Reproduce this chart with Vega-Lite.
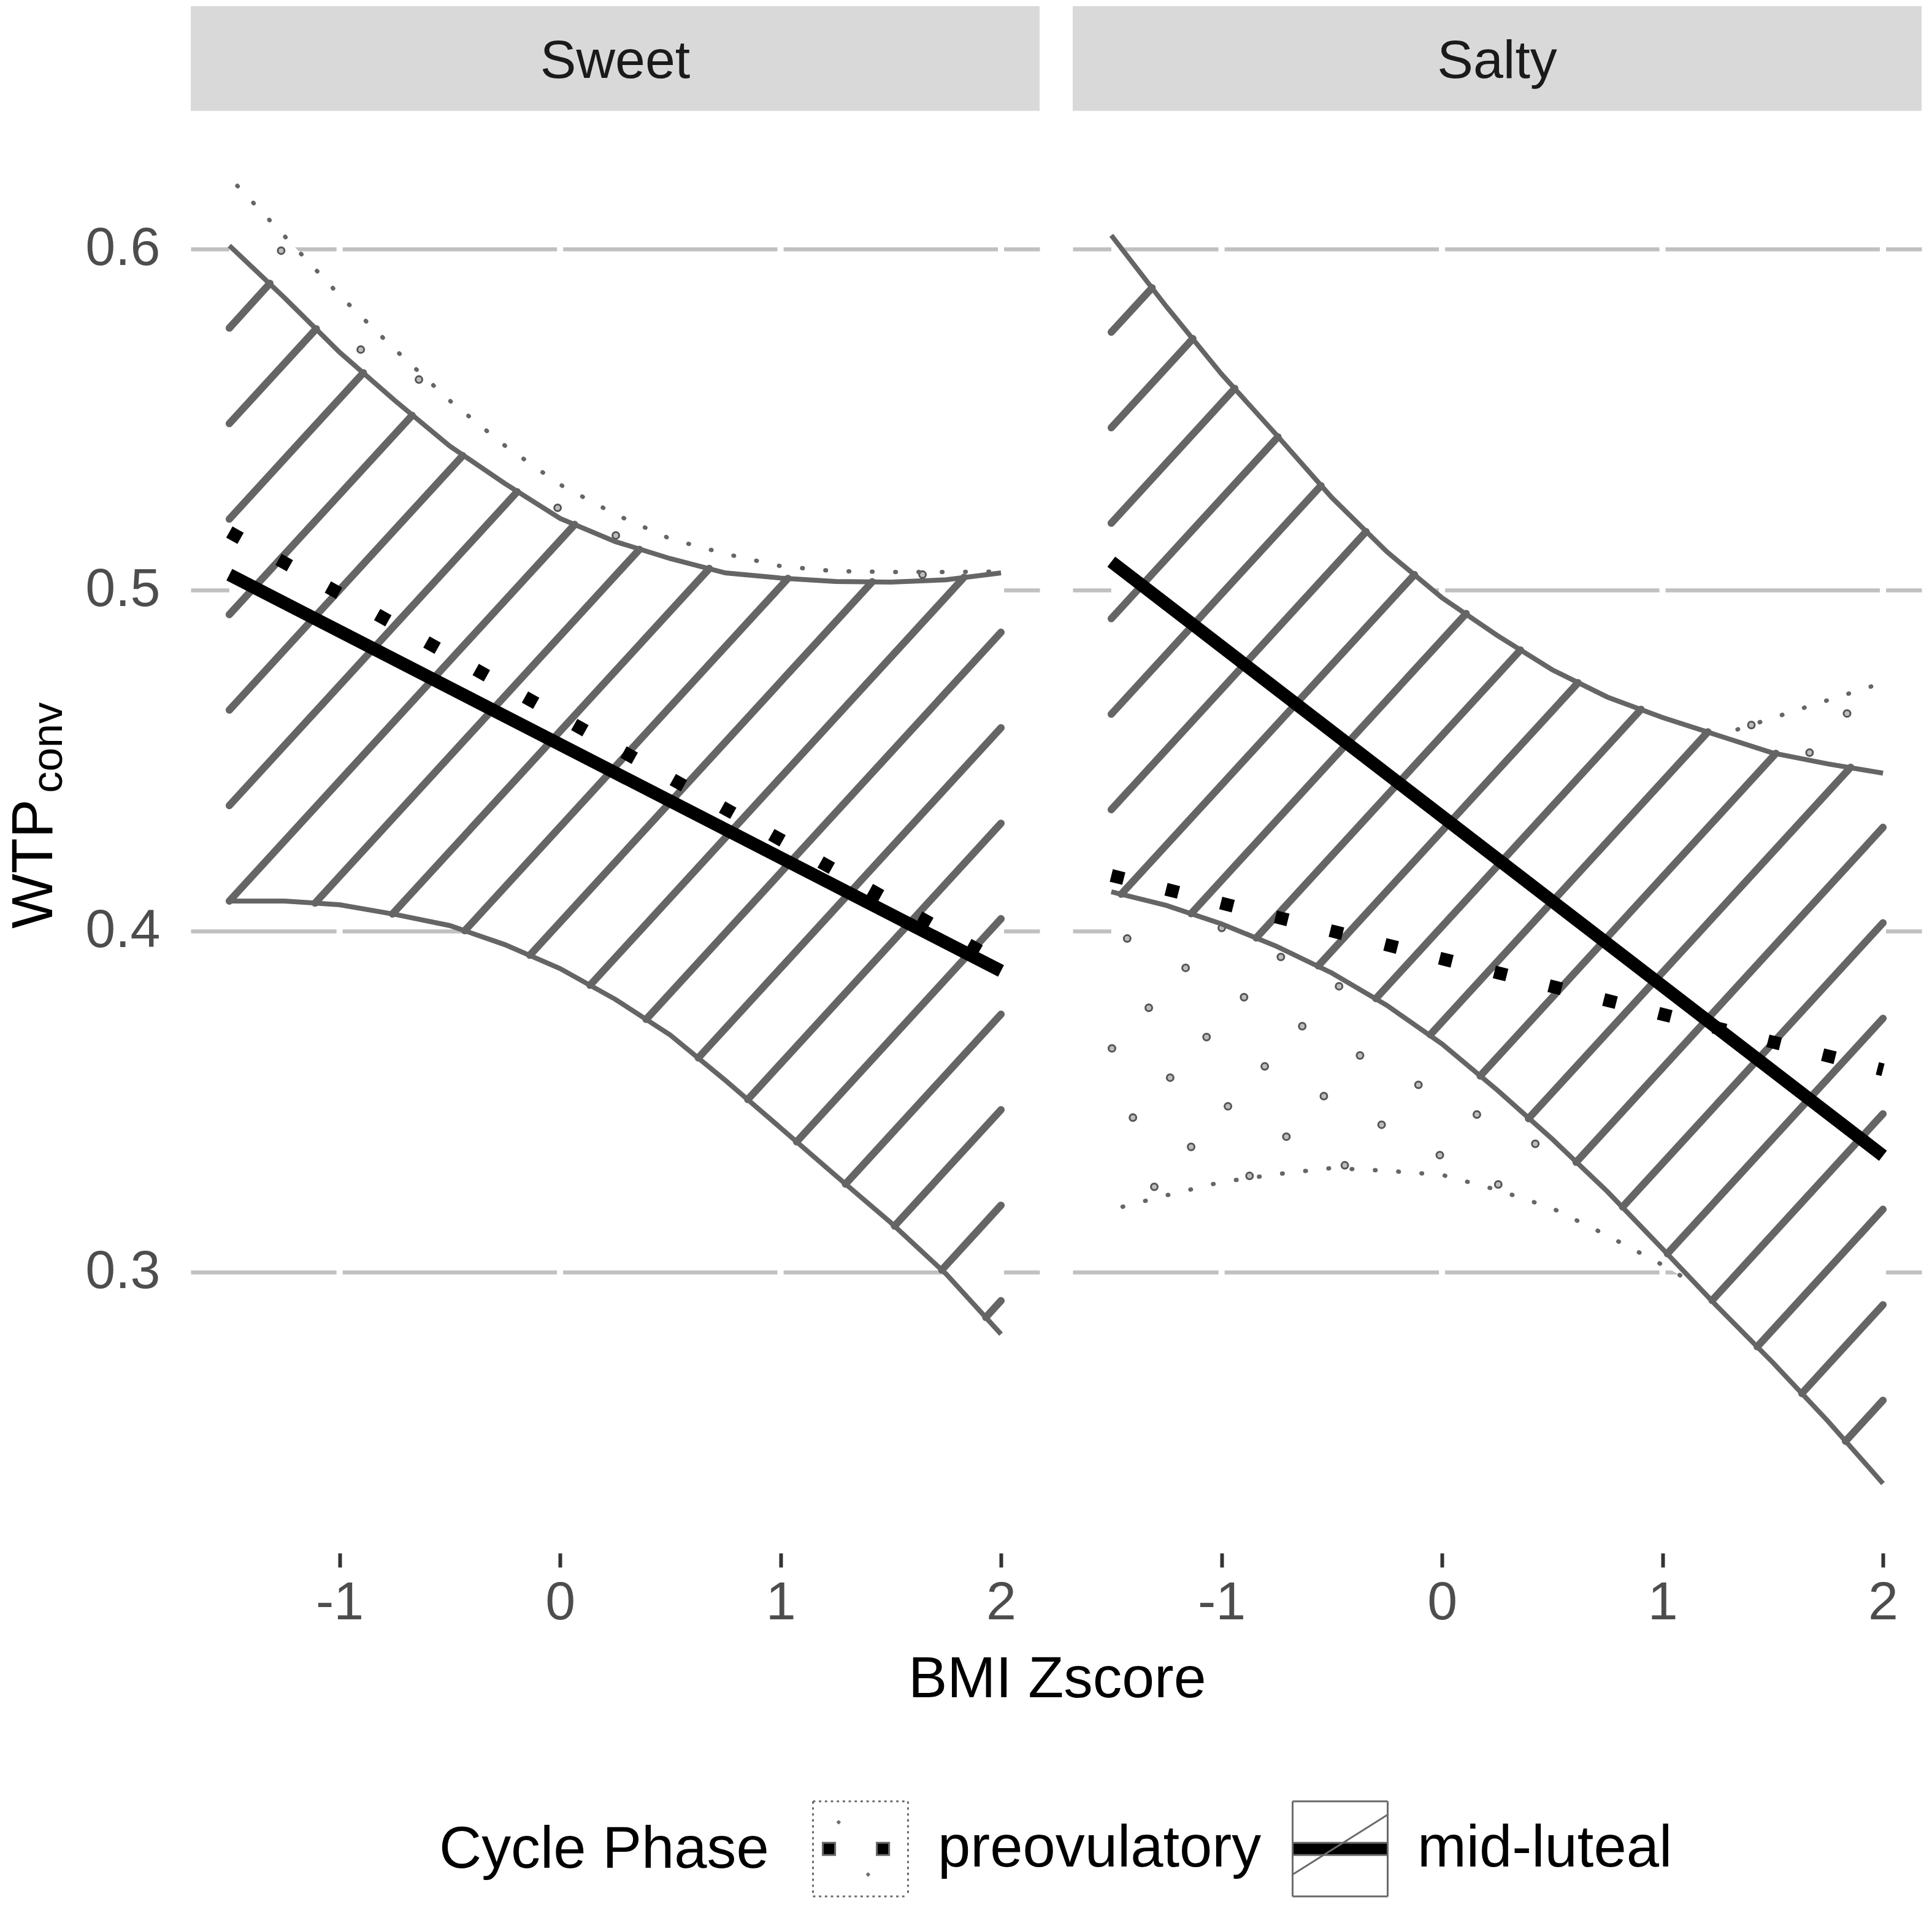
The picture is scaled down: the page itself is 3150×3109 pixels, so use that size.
{
  "$schema": "https://vega.github.io/schema/vega-lite/v6.json",
  "background": "white",
  "padding": {"left": 9, "right": 11, "top": 10, "bottom": 15},
  "bounds": "flush",
  "spacing": 54,
  "config": {
    "font": "Liberation Sans",
    "view": {"stroke": null},
    "axisX": {"grid": false, "domain": false, "ticks": true, "tickSize": 23, "tickWidth": 6, "tickColor": "#333333", "labelFontSize": 88, "labelColor": "#4d4d4d", "labelPadding": 14},
    "axisY": {"grid": true, "gridColor": "#c0c0c0", "gridWidth": 6.5, "domain": false, "ticks": false, "labelFontSize": 88, "labelColor": "#4d4d4d", "labelPadding": 50}
  },
  "data": {
    "values": [
      {"kind": "gap", "panel": "Sweet", "x": -1}, {"kind": "gap", "panel": "Sweet", "x": 0}, {"kind": "gap", "panel": "Sweet", "x": 1}, {"kind": "gap", "panel": "Sweet", "x": 2},
      {"kind": "gap", "panel": "Salty", "x": -1}, {"kind": "gap", "panel": "Salty", "x": 0}, {"kind": "gap", "panel": "Salty", "x": 1}, {"kind": "gap", "panel": "Salty", "x": 2},
      {"kind": "key", "panel": "Sweet", "phase": "preovulatory", "x": 0, "y": 0.45},
      {"kind": "key", "panel": "Sweet", "phase": "mid-luteal", "x": 0, "y": 0.45},

      {"kind": "band", "panel": "Sweet", "phase": "mid-luteal", "x": -1.5, "lo": 0.4088, "hi": 0.6010},
      {"kind": "band", "panel": "Sweet", "phase": "mid-luteal", "x": -1.25, "lo": 0.4088, "hi": 0.5857},
      {"kind": "band", "panel": "Sweet", "phase": "mid-luteal", "x": -1, "lo": 0.4077, "hi": 0.5697},
      {"kind": "band", "panel": "Sweet", "phase": "mid-luteal", "x": -0.75, "lo": 0.4049, "hi": 0.5556},
      {"kind": "band", "panel": "Sweet", "phase": "mid-luteal", "x": -0.5, "lo": 0.4016, "hi": 0.5422},
      {"kind": "band", "panel": "Sweet", "phase": "mid-luteal", "x": -0.25, "lo": 0.3960, "hi": 0.5312},
      {"kind": "band", "panel": "Sweet", "phase": "mid-luteal", "x": 0, "lo": 0.3890, "hi": 0.5210},
      {"kind": "band", "panel": "Sweet", "phase": "mid-luteal", "x": 0.25, "lo": 0.3800, "hi": 0.5142},
      {"kind": "band", "panel": "Sweet", "phase": "mid-luteal", "x": 0.5, "lo": 0.3695, "hi": 0.5092},
      {"kind": "band", "panel": "Sweet", "phase": "mid-luteal", "x": 0.75, "lo": 0.3562, "hi": 0.5050},
      {"kind": "band", "panel": "Sweet", "phase": "mid-luteal", "x": 1, "lo": 0.3423, "hi": 0.5035},
      {"kind": "band", "panel": "Sweet", "phase": "mid-luteal", "x": 1.25, "lo": 0.3283, "hi": 0.5025},
      {"kind": "band", "panel": "Sweet", "phase": "mid-luteal", "x": 1.5, "lo": 0.3145, "hi": 0.5023},
      {"kind": "band", "panel": "Sweet", "phase": "mid-luteal", "x": 1.75, "lo": 0.2995, "hi": 0.5030},
      {"kind": "band", "panel": "Sweet", "phase": "mid-luteal", "x": 2, "lo": 0.2818, "hi": 0.5050},

      {"kind": "band", "panel": "Sweet", "phase": "preovulatory", "x": -1.5, "lo": 0.4140, "hi": 0.6210},
      {"kind": "band", "panel": "Sweet", "phase": "preovulatory", "x": -1.25, "lo": 0.4135, "hi": 0.6038},
      {"kind": "band", "panel": "Sweet", "phase": "preovulatory", "x": -1, "lo": 0.4120, "hi": 0.5864},
      {"kind": "band", "panel": "Sweet", "phase": "preovulatory", "x": -0.75, "lo": 0.4090, "hi": 0.5706},
      {"kind": "band", "panel": "Sweet", "phase": "preovulatory", "x": -0.5, "lo": 0.4050, "hi": 0.5555},
      {"kind": "band", "panel": "Sweet", "phase": "preovulatory", "x": -0.25, "lo": 0.3995, "hi": 0.5423},
      {"kind": "band", "panel": "Sweet", "phase": "preovulatory", "x": 0, "lo": 0.3930, "hi": 0.5309},
      {"kind": "band", "panel": "Sweet", "phase": "preovulatory", "x": 0.25, "lo": 0.3840, "hi": 0.5222},
      {"kind": "band", "panel": "Sweet", "phase": "preovulatory", "x": 0.5, "lo": 0.3740, "hi": 0.5150},
      {"kind": "band", "panel": "Sweet", "phase": "preovulatory", "x": 0.75, "lo": 0.3610, "hi": 0.5106},
      {"kind": "band", "panel": "Sweet", "phase": "preovulatory", "x": 1, "lo": 0.3480, "hi": 0.5070},
      {"kind": "band", "panel": "Sweet", "phase": "preovulatory", "x": 1.25, "lo": 0.3335, "hi": 0.5055},
      {"kind": "band", "panel": "Sweet", "phase": "preovulatory", "x": 1.5, "lo": 0.3180, "hi": 0.5053},
      {"kind": "band", "panel": "Sweet", "phase": "preovulatory", "x": 1.75, "lo": 0.3020, "hi": 0.5053},
      {"kind": "band", "panel": "Sweet", "phase": "preovulatory", "x": 2, "lo": 0.2865, "hi": 0.5054},

      {"kind": "band", "panel": "Salty", "phase": "mid-luteal", "x": -1.5, "lo": 0.4115, "hi": 0.6040},
      {"kind": "band", "panel": "Salty", "phase": "mid-luteal", "x": -1.25, "lo": 0.4075, "hi": 0.5831},
      {"kind": "band", "panel": "Salty", "phase": "mid-luteal", "x": -1, "lo": 0.4021, "hi": 0.5633},
      {"kind": "band", "panel": "Salty", "phase": "mid-luteal", "x": -0.75, "lo": 0.3955, "hi": 0.5454},
      {"kind": "band", "panel": "Salty", "phase": "mid-luteal", "x": -0.5, "lo": 0.3877, "hi": 0.5271},
      {"kind": "band", "panel": "Salty", "phase": "mid-luteal", "x": -0.25, "lo": 0.3782, "hi": 0.5112},
      {"kind": "band", "panel": "Salty", "phase": "mid-luteal", "x": 0, "lo": 0.3669, "hi": 0.4977},
      {"kind": "band", "panel": "Salty", "phase": "mid-luteal", "x": 0.25, "lo": 0.3534, "hi": 0.4867},
      {"kind": "band", "panel": "Salty", "phase": "mid-luteal", "x": 0.5, "lo": 0.3390, "hi": 0.4766},
      {"kind": "band", "panel": "Salty", "phase": "mid-luteal", "x": 0.75, "lo": 0.3236, "hi": 0.4686},
      {"kind": "band", "panel": "Salty", "phase": "mid-luteal", "x": 1, "lo": 0.3068, "hi": 0.4626},
      {"kind": "band", "panel": "Salty", "phase": "mid-luteal", "x": 1.25, "lo": 0.2898, "hi": 0.4574},
      {"kind": "band", "panel": "Salty", "phase": "mid-luteal", "x": 1.5, "lo": 0.2735, "hi": 0.4522},
      {"kind": "band", "panel": "Salty", "phase": "mid-luteal", "x": 1.75, "lo": 0.2563, "hi": 0.4490},
      {"kind": "band", "panel": "Salty", "phase": "mid-luteal", "x": 2, "lo": 0.2380, "hi": 0.4463},

      {"kind": "band", "panel": "Salty", "phase": "preovulatory", "x": -1.5, "lo": 0.3183, "hi": 0.5140},
      {"kind": "band", "panel": "Salty", "phase": "preovulatory", "x": -1.25, "lo": 0.3225, "hi": 0.5065},
      {"kind": "band", "panel": "Salty", "phase": "preovulatory", "x": -1, "lo": 0.3264, "hi": 0.4990},
      {"kind": "band", "panel": "Salty", "phase": "preovulatory", "x": -0.75, "lo": 0.3287, "hi": 0.4920},
      {"kind": "band", "panel": "Salty", "phase": "preovulatory", "x": -0.5, "lo": 0.3305, "hi": 0.4850},
      {"kind": "band", "panel": "Salty", "phase": "preovulatory", "x": -0.25, "lo": 0.3297, "hi": 0.4785},
      {"kind": "band", "panel": "Salty", "phase": "preovulatory", "x": 0, "lo": 0.3285, "hi": 0.4720},
      {"kind": "band", "panel": "Salty", "phase": "preovulatory", "x": 0.25, "lo": 0.3241, "hi": 0.4670},
      {"kind": "band", "panel": "Salty", "phase": "preovulatory", "x": 0.5, "lo": 0.3187, "hi": 0.4620},
      {"kind": "band", "panel": "Salty", "phase": "preovulatory", "x": 0.75, "lo": 0.3107, "hi": 0.4585},
      {"kind": "band", "panel": "Salty", "phase": "preovulatory", "x": 1, "lo": 0.3021, "hi": 0.4560},
      {"kind": "band", "panel": "Salty", "phase": "preovulatory", "x": 1.25, "lo": 0.2925, "hi": 0.4572},
      {"kind": "band", "panel": "Salty", "phase": "preovulatory", "x": 1.5, "lo": 0.2820, "hi": 0.4625},
      {"kind": "band", "panel": "Salty", "phase": "preovulatory", "x": 1.75, "lo": 0.2700, "hi": 0.4677},
      {"kind": "band", "panel": "Salty", "phase": "preovulatory", "x": 2, "lo": 0.2570, "hi": 0.4728},

      {"kind": "dot", "panel": "Sweet", "x": -1.265, "y": 0.5995},
      {"kind": "dot", "panel": "Sweet", "x": -0.904, "y": 0.5705},
      {"kind": "dot", "panel": "Sweet", "x": -0.640, "y": 0.5617},
      {"kind": "dot", "panel": "Sweet", "x": -0.011, "y": 0.5241},
      {"kind": "dot", "panel": "Sweet", "x": 0.253, "y": 0.5160},
      {"kind": "dot", "panel": "Sweet", "x": 1.644, "y": 0.5045},
      {"kind": "dot", "panel": "Salty", "x": -1.428, "y": 0.3978},
      {"kind": "dot", "panel": "Salty", "x": -1.163, "y": 0.3892},
      {"kind": "dot", "panel": "Salty", "x": -1.330, "y": 0.3775},
      {"kind": "dot", "panel": "Salty", "x": -0.898, "y": 0.3806},
      {"kind": "dot", "panel": "Salty", "x": -0.731, "y": 0.3924},
      {"kind": "dot", "panel": "Salty", "x": -0.999, "y": 0.4009},
      {"kind": "dot", "panel": "Salty", "x": -0.467, "y": 0.3838},
      {"kind": "dot", "panel": "Salty", "x": -1.068, "y": 0.3689},
      {"kind": "dot", "panel": "Salty", "x": -0.634, "y": 0.3721},
      {"kind": "dot", "panel": "Salty", "x": -1.497, "y": 0.3656},
      {"kind": "dot", "panel": "Salty", "x": -0.804, "y": 0.3603},
      {"kind": "dot", "panel": "Salty", "x": -0.372, "y": 0.3635},
      {"kind": "dot", "panel": "Salty", "x": -1.233, "y": 0.3570},
      {"kind": "dot", "panel": "Salty", "x": -0.971, "y": 0.3486},
      {"kind": "dot", "panel": "Salty", "x": -0.536, "y": 0.3516},
      {"kind": "dot", "panel": "Salty", "x": -0.107, "y": 0.3549},
      {"kind": "dot", "panel": "Salty", "x": -1.402, "y": 0.3453},
      {"kind": "dot", "panel": "Salty", "x": -0.706, "y": 0.3397},
      {"kind": "dot", "panel": "Salty", "x": -0.274, "y": 0.3432},
      {"kind": "dot", "panel": "Salty", "x": 0.158, "y": 0.3462},
      {"kind": "dot", "panel": "Salty", "x": -1.138, "y": 0.3367},
      {"kind": "dot", "panel": "Salty", "x": -0.010, "y": 0.3343},
      {"kind": "dot", "panel": "Salty", "x": 0.423, "y": 0.3376},
      {"kind": "dot", "panel": "Salty", "x": -1.305, "y": 0.3250},
      {"kind": "dot", "panel": "Salty", "x": -0.873, "y": 0.3282},
      {"kind": "dot", "panel": "Salty", "x": -0.441, "y": 0.3313},
      {"kind": "dot", "panel": "Salty", "x": 0.255, "y": 0.3257},
      {"kind": "dot", "panel": "Salty", "x": 1.403, "y": 0.4604},
      {"kind": "dot", "panel": "Salty", "x": 1.837, "y": 0.4638},
      {"kind": "dot", "panel": "Salty", "x": 1.667, "y": 0.4523},

      {"kind": "hatch", "panel": "Sweet", "x": -1.5, "y": 0.5768, "x2": -1.316, "y2": 0.5899},
      {"kind": "hatch", "panel": "Sweet", "x": -1.5, "y": 0.5488, "x2": -1.1055, "y2": 0.5766},
      {"kind": "hatch", "panel": "Sweet", "x": -1.5, "y": 0.5208, "x2": -0.892, "y2": 0.5637},
      {"kind": "hatch", "panel": "Sweet", "x": -1.5, "y": 0.4928, "x2": -0.671, "y2": 0.5512},
      {"kind": "hatch", "panel": "Sweet", "x": -1.5, "y": 0.4648, "x2": -0.4415, "y2": 0.5394},
      {"kind": "hatch", "panel": "Sweet", "x": -1.5, "y": 0.4368, "x2": -0.1945, "y2": 0.5288},
      {"kind": "hatch", "panel": "Sweet", "x": -1.5, "y": 0.4088, "x2": 0.0665, "y2": 0.5192},
      {"kind": "hatch", "panel": "Sweet", "x": -1.111, "y": 0.4082, "x2": 0.360, "y2": 0.5119},
      {"kind": "hatch", "panel": "Sweet", "x": -0.760, "y": 0.4050, "x2": 0.677, "y2": 0.5063},
      {"kind": "hatch", "panel": "Sweet", "x": -0.432, "y": 0.4001, "x2": 1.0335, "y2": 0.5034},
      {"kind": "hatch", "panel": "Sweet", "x": -0.137, "y": 0.3929, "x2": 1.416, "y2": 0.5024},
      {"kind": "hatch", "panel": "Sweet", "x": 0.136, "y": 0.3841, "x2": 1.832, "y2": 0.5037},
      {"kind": "hatch", "panel": "Sweet", "x": 0.3905, "y": 0.3741, "x2": 2, "y2": 0.4876},
      {"kind": "hatch", "panel": "Sweet", "x": 0.627, "y": 0.3628, "x2": 2, "y2": 0.4596},
      {"kind": "hatch", "panel": "Sweet", "x": 0.8515, "y": 0.3506, "x2": 2, "y2": 0.4316},
      {"kind": "hatch", "panel": "Sweet", "x": 1.073, "y": 0.3382, "x2": 2, "y2": 0.4036},
      {"kind": "hatch", "panel": "Sweet", "x": 1.2945, "y": 0.3258, "x2": 2, "y2": 0.3756},
      {"kind": "hatch", "panel": "Sweet", "x": 1.517, "y": 0.3135, "x2": 2, "y2": 0.3476},
      {"kind": "hatch", "panel": "Sweet", "x": 1.7315, "y": 0.3006, "x2": 2, "y2": 0.3196},
      {"kind": "hatch", "panel": "Sweet", "x": 1.931, "y": 0.2867, "x2": 2, "y2": 0.2916},

      {"kind": "hatch", "panel": "Salty", "x": -1.5, "y": 0.5756, "x2": -1.315, "y2": 0.5886},
      {"kind": "hatch", "panel": "Salty", "x": -1.5, "y": 0.5476, "x2": -1.13, "y2": 0.5737},
      {"kind": "hatch", "panel": "Salty", "x": -1.5, "y": 0.5196, "x2": -0.940, "y2": 0.5591},
      {"kind": "hatch", "panel": "Salty", "x": -1.5, "y": 0.4916, "x2": -0.744, "y2": 0.5449},
      {"kind": "hatch", "panel": "Salty", "x": -1.5, "y": 0.4636, "x2": -0.549, "y2": 0.5306},
      {"kind": "hatch", "panel": "Salty", "x": -1.5, "y": 0.4356, "x2": -0.3445, "y2": 0.5171},
      {"kind": "hatch", "panel": "Salty", "x": -1.455, "y": 0.4108, "x2": -0.125, "y2": 0.5045},
      {"kind": "hatch", "panel": "Salty", "x": -1.138, "y": 0.4051, "x2": 0.1095, "y2": 0.4931},
      {"kind": "hatch", "panel": "Salty", "x": -0.8425, "y": 0.3980, "x2": 0.3555, "y2": 0.4824},
      {"kind": "hatch", "panel": "Salty", "x": -0.5615, "y": 0.3898, "x2": 0.617, "y2": 0.4728},
      {"kind": "hatch", "panel": "Salty", "x": -0.30, "y": 0.3802, "x2": 0.9025, "y2": 0.4650},
      {"kind": "hatch", "panel": "Salty", "x": -0.053, "y": 0.3696, "x2": 1.206, "y2": 0.4584},
      {"kind": "hatch", "panel": "Salty", "x": 0.173, "y": 0.3575, "x2": 1.514, "y2": 0.4521},
      {"kind": "hatch", "panel": "Salty", "x": 0.392, "y": 0.3450, "x2": 1.853, "y2": 0.4480},
      {"kind": "hatch", "panel": "Salty", "x": 0.608, "y": 0.3322, "x2": 2, "y2": 0.4304},
      {"kind": "hatch", "panel": "Salty", "x": 0.819, "y": 0.3191, "x2": 2, "y2": 0.4024},
      {"kind": "hatch", "panel": "Salty", "x": 1.022, "y": 0.3054, "x2": 2, "y2": 0.3744},
      {"kind": "hatch", "panel": "Salty", "x": 1.225, "y": 0.2917, "x2": 2, "y2": 0.3464},
      {"kind": "hatch", "panel": "Salty", "x": 1.4295, "y": 0.2781, "x2": 2, "y2": 0.3184},
      {"kind": "hatch", "panel": "Salty", "x": 1.632, "y": 0.2644, "x2": 2, "y2": 0.2904},
      {"kind": "hatch", "panel": "Salty", "x": 1.83, "y": 0.2504, "x2": 2, "y2": 0.2624},

      {"kind": "fit", "panel": "Sweet", "phase": "preovulatory", "x": -1.5, "y": 0.5170},
      {"kind": "fit", "panel": "Sweet", "phase": "preovulatory", "x": 2, "y": 0.3907},
      {"kind": "fit", "panel": "Sweet", "phase": "mid-luteal", "x": -1.5, "y": 0.5045},
      {"kind": "fit", "panel": "Sweet", "phase": "mid-luteal", "x": 2, "y": 0.3883},
      {"kind": "fit", "panel": "Salty", "phase": "preovulatory", "x": -1.5, "y": 0.4163},
      {"kind": "fit", "panel": "Salty", "phase": "preovulatory", "x": 2, "y": 0.3593},
      {"kind": "fit", "panel": "Salty", "phase": "mid-luteal", "x": -1.5, "y": 0.5083},
      {"kind": "fit", "panel": "Salty", "phase": "mid-luteal", "x": 2, "y": 0.3341},

      {"kind": "strip", "panel": "Sweet", "label": "Sweet"},
      {"kind": "strip", "panel": "Salty", "label": "Salty"},
      {"kind": "ytitle", "panel": "Sweet", "label": "WTP"},
      {"kind": "ysub", "panel": "Sweet", "label": "conv"},
      {"kind": "xtitle", "panel": "Sweet", "label": "BMI Zscore"}
    ]
  },
  "facet": {"column": {"field": "panel", "type": "nominal", "sort": ["Sweet", "Salty"], "header": null}},
  "spec": {
    "width": 1384,
    "height": 2522,
    "layer": [
      {
        "transform": [{"filter": "datum.kind === 'gap'"}],
        "mark": {"type": "rule", "stroke": "white", "strokeWidth": 10},
        "encoding": {
          "x": {"field": "x", "type": "quantitative"},
          "y": {"datum": 0.2176},
          "y2": {"datum": 0.6405}
        }
      },
      {
        "transform": [{"filter": "datum.kind === 'key'"}],
        "mark": {"type": "point", "filled": true, "fill": "black", "strokeWidth": 3, "size": 30, "opacity": 1},
        "encoding": {
          "x": {"field": "x", "type": "quantitative"},
          "y": {"field": "y", "type": "quantitative"},
          "stroke": {
            "field": "phase",
            "type": "nominal",
            "scale": {"domain": ["preovulatory", "mid-luteal"], "range": ["#6b6b6b", "#6b6b6b"]},
            "legend": {
              "title": "Cycle Phase",
              "orient": "none",
              "legendX": 405,
              "legendY": 2925,
              "direction": "horizontal",
              "titleOrient": "left",
              "titleAnchor": "middle",
              "titleBaseline": "middle",
              "titleFontSize": 95.8,
              "titleFontWeight": "normal",
              "titleColor": "black",
              "titlePadding": 70,
              "titleLimit": 0,
              "labelFontSize": 95.8,
              "labelColor": "black",
              "labelLimit": 0,
              "labelOffset": 47,
              "columnPadding": 44,
              "symbolSize": 24025,
              "symbolStrokeWidth": 3,
              "symbolFillColor": "black",
              "symbolOpacity": 1
            }
          },
          "shape": {
            "field": "phase",
            "type": "nominal",
            "scale": {
              "domain": ["preovulatory", "mid-luteal"],
              "range": [
                "M-1,-1h.05m.075,0h.05m.075,0h.05m.075,0h.05m.075,0h.05m.075,0h.05m.075,0h.05m.075,0h.05m.075,0h.05m.075,0h.05m.075,0h.05m.075,0h.05m.075,0h.05m.075,0h.05m.075,0h.05m.075,0h.05M-1,1h.05m.075,0h.05m.075,0h.05m.075,0h.05m.075,0h.05m.075,0h.05m.075,0h.05m.075,0h.05m.075,0h.05m.075,0h.05m.075,0h.05m.075,0h.05m.075,0h.05m.075,0h.05m.075,0h.05m.075,0h.05M-1,-1v.05m0,.075v.05m0,.075v.05m0,.075v.05m0,.075v.05m0,.075v.05m0,.075v.05m0,.075v.05m0,.075v.05m0,.075v.05m0,.075v.05m0,.075v.05m0,.075v.05m0,.075v.05m0,.075v.05m0,.075v.05M1,-1v.05m0,.075v.05m0,.075v.05m0,.075v.05m0,.075v.05m0,.075v.05m0,.075v.05m0,.075v.05m0,.075v.05m0,.075v.05m0,.075v.05m0,.075v.05m0,.075v.05m0,.075v.05m0,.075v.05m0,.075v.05M-.5,-.56h.08M-.46,-.6v.08M.12,.54h.08M.16,.5v.08M-.794,-.13h.26v.26h-.26zM.342,-.13h.26v.26h-.26z",
                "M-1,-1H1M1,-1V1M1,1H-1M-1,1V-1M-1,.54L1,-.72M-1,-.13H1V.13H-1Z"
              ]
            },
            "legend": {
              "title": "Cycle Phase",
              "orient": "none",
              "legendX": 405,
              "legendY": 2925,
              "direction": "horizontal",
              "titleOrient": "left",
              "titleAnchor": "middle",
              "titleBaseline": "middle",
              "titleFontSize": 95.8,
              "titleFontWeight": "normal",
              "titleColor": "black",
              "titlePadding": 70,
              "titleLimit": 0,
              "labelFontSize": 95.8,
              "labelColor": "black",
              "labelLimit": 0,
              "labelOffset": 47,
              "columnPadding": 44,
              "symbolSize": 24025,
              "symbolStrokeWidth": 3,
              "symbolFillColor": "black",
              "symbolOpacity": 1
            }
          }
        }
      },
      {
        "transform": [{"filter": "datum.kind === 'band' && datum.phase === 'preovulatory'"}],
        "mark": {"type": "area", "fill": "white"},
        "encoding": {
          "x": {"field": "x", "type": "quantitative", "scale": {"domain": [-1.675, 2.175], "nice": false, "zero": false}, "axis": {"values": [-1, 0, 1, 2], "labelExpr": "toString(datum.value)", "title": null}},
          "y": {"field": "lo", "type": "quantitative", "scale": {"domain": [0.2176, 0.6712], "nice": false, "zero": false}, "axis": {"values": [0.3, 0.4, 0.5, 0.6], "format": ".1f", "title": null}},
          "y2": {"field": "hi"}
        }
      },
      {
        "transform": [{"filter": "datum.kind === 'dot'"}],
        "mark": {"type": "point", "shape": "circle", "filled": true, "fill": "#bdbdbd", "stroke": "#555555", "strokeWidth": 3, "size": 120, "opacity": 1},
        "encoding": {
          "x": {"field": "x", "type": "quantitative"},
          "y": {"field": "y", "type": "quantitative"}
        }
      },
      {
        "transform": [{"filter": "datum.kind === 'band' && datum.phase === 'preovulatory'"}],
        "mark": {"type": "line", "stroke": "#666666", "strokeWidth": 7, "strokeDash": [1, 37], "strokeDashOffset": 19, "strokeCap": "round"},
        "encoding": {
          "x": {"field": "x", "type": "quantitative"},
          "y": {"field": "hi", "type": "quantitative"}
        }
      },
      {
        "transform": [{"filter": "datum.kind === 'band' && datum.phase === 'preovulatory'"}],
        "mark": {"type": "line", "stroke": "#666666", "strokeWidth": 7, "strokeDash": [1, 37], "strokeDashOffset": 19, "strokeCap": "round"},
        "encoding": {
          "x": {"field": "x", "type": "quantitative"},
          "y": {"field": "lo", "type": "quantitative"}
        }
      },
      {
        "transform": [{"filter": "datum.kind === 'band' && datum.phase === 'mid-luteal'"}],
        "mark": {"type": "area", "fill": "white"},
        "encoding": {
          "x": {"field": "x", "type": "quantitative"},
          "y": {"field": "lo", "type": "quantitative"},
          "y2": {"field": "hi"}
        }
      },
      {
        "transform": [{"filter": "datum.kind === 'hatch'"}],
        "mark": {"type": "rule", "stroke": "#656565", "strokeWidth": 12, "strokeCap": "round"},
        "encoding": {
          "x": {"field": "x", "type": "quantitative"},
          "y": {"field": "y", "type": "quantitative"},
          "x2": {"field": "x2"},
          "y2": {"field": "y2"}
        }
      },
      {
        "transform": [{"filter": "datum.kind === 'band' && datum.phase === 'mid-luteal'"}],
        "mark": {"type": "line", "stroke": "#656565", "strokeWidth": 8},
        "encoding": {
          "x": {"field": "x", "type": "quantitative"},
          "y": {"field": "hi", "type": "quantitative"}
        }
      },
      {
        "transform": [{"filter": "datum.kind === 'band' && datum.phase === 'mid-luteal'"}],
        "mark": {"type": "line", "stroke": "#656565", "strokeWidth": 8},
        "encoding": {
          "x": {"field": "x", "type": "quantitative"},
          "y": {"field": "lo", "type": "quantitative"}
        }
      },
      {
        "transform": [{"filter": "datum.kind === 'fit' && datum.phase === 'preovulatory'"}],
        "mark": {"type": "line", "stroke": "black", "strokeWidth": 21, "strokeDash": [21, 71], "strokeCap": "butt"},
        "encoding": {
          "x": {"field": "x", "type": "quantitative"},
          "y": {"field": "y", "type": "quantitative"}
        }
      },
      {
        "transform": [{"filter": "datum.kind === 'fit' && datum.phase === 'mid-luteal'"}],
        "mark": {"type": "line", "stroke": "black", "strokeWidth": 21, "strokeCap": "butt"},
        "encoding": {
          "x": {"field": "x", "type": "quantitative"},
          "y": {"field": "y", "type": "quantitative"}
        }
      },
      {
        "transform": [{"filter": "datum.kind === 'strip'"}],
        "mark": {"type": "rect", "fill": "#d9d9d9"},
        "encoding": {
          "x": {"datum": -1.675},
          "x2": {"datum": 2.175},
          "y": {"datum": 0.6405},
          "y2": {"datum": 0.6712}
        }
      },
      {
        "transform": [{"filter": "datum.kind === 'strip'"}],
        "mark": {"type": "text", "fontSize": 88, "color": "#1a1a1a", "baseline": "middle", "align": "center"},
        "encoding": {
          "x": {"datum": 0.25},
          "y": {"datum": 0.6548},
          "text": {"field": "label"}
        }
      },
      {
        "transform": [{"filter": "datum.kind === 'ytitle'"}],
        "mark": {"type": "text", "fontSize": 95, "color": "black", "angle": 270, "align": "right", "baseline": "alphabetic", "dy": -226},
        "encoding": {
          "x": {"datum": -1.675},
          "y": {"datum": 0.43867},
          "text": {"field": "label"}
        }
      },
      {
        "transform": [{"filter": "datum.kind === 'ysub'"}],
        "mark": {"type": "text", "fontSize": 70, "color": "black", "angle": 270, "align": "left", "baseline": "alphabetic", "dx": 10, "dy": -210},
        "encoding": {
          "x": {"datum": -1.675},
          "y": {"datum": 0.43867},
          "text": {"field": "label"}
        }
      },
      {
        "transform": [{"filter": "datum.kind === 'xtitle'"}],
        "mark": {"type": "text", "fontSize": 95, "color": "black", "align": "center", "baseline": "alphabetic", "dy": 235},
        "encoding": {
          "x": {"datum": 2.255},
          "y": {"datum": 0.2176},
          "text": {"field": "label"}
        }
      }
    ]
  }
}
